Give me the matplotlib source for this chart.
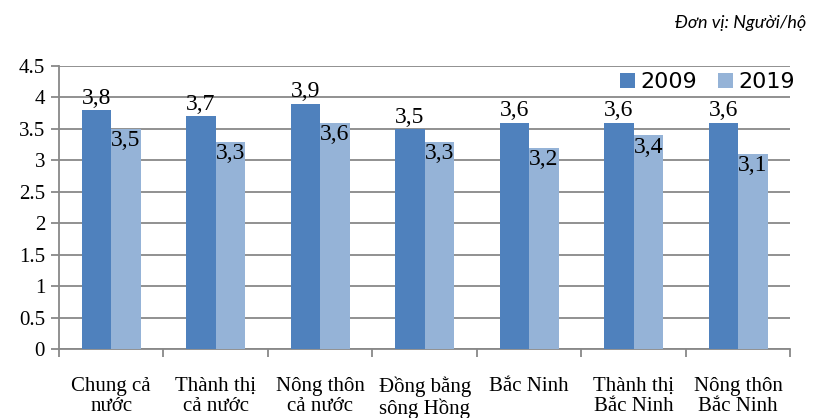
import matplotlib.pyplot as plt
import numpy as np

# Average household size, persons per household
categories = [
    "Chung cả\nnước",
    "Thành thị\ncả nước",
    "Nông thôn\ncả nước",
    "Đồng bằng\nsông Hồng",
    "Bắc Ninh",
    "Thành thị\nBắc Ninh",
    "Nông thôn\nBắc Ninh",
]
years = ["2009", "2019"]
values_2009 = [3.8, 3.7, 3.9, 3.5, 3.6, 3.6, 3.6]
values_2019 = [3.5, 3.3, 3.6, 3.3, 3.2, 3.4, 3.1]
y_ticks = [0, 0.5, 1, 1.5, 2, 2.5, 3, 3.5, 4, 4.5]

DARK = "#4f81bd"
LIGHT = "#95b3d7"
GRID = "#888888"
SERIF = "Liberation Serif"

plt.rcParams["font.family"] = [SERIF, "DejaVu Serif"]


def fmt(v):
    return f"{v:.1f}".replace(".", ",")


fig = plt.figure(figsize=(8.19, 4.18), dpi=100)
ax = fig.add_axes([0.072, 0.165, 0.893, 0.677])

x = np.arange(len(categories))
w = 0.283
b1 = ax.bar(x - w / 2, values_2009, w, color=DARK, label=years[0], zorder=3)
b2 = ax.bar(x + w / 2, values_2019, w, color=LIGHT, label=years[1], zorder=3)

for rect, v in zip(b1, values_2009):
    ax.annotate(fmt(v), (rect.get_x() + rect.get_width() / 2, v),
                xytext=(0, 1), textcoords="offset points",
                ha="center", va="bottom", fontsize=17, zorder=4)
for rect, v in zip(b2, values_2019):
    ax.annotate(fmt(v), (rect.get_x() + rect.get_width() / 2, v),
                xytext=(0, -1), textcoords="offset points",
                ha="center", va="top", fontsize=17, zorder=4)

ax.set_xlim(-0.5, len(categories) - 0.5)
ax.set_ylim(0, 4.5)
ax.yaxis.grid(True, color=GRID, lw=1.3, zorder=0)
ax.set_axisbelow(True)

# category labels sit centred, ticks mark the boundaries between groups
ax.set_xticks(np.arange(len(categories) + 1) - 0.5)
ax.set_xticklabels([])
ax.set_xticks(x, minor=True)
ax.tick_params(axis="x", which="minor", length=0, pad=20)
ax.tick_params(axis="x", which="major", length=6, width=1.3, color=GRID)
ax.tick_params(axis="y", length=6, width=1.3, color=GRID, pad=4)

ax.set_xticklabels(categories, minor=True, fontsize=15, linespacing=1.1,
                   family=SERIF)
ax.set_yticks(y_ticks)
ax.set_yticklabels([f"{t:g}" for t in y_ticks], fontsize=15, family=SERIF)

for side in ("top", "right"):
    ax.spines[side].set_visible(False)
for side in ("left", "bottom"):
    ax.spines[side].set_color(GRID)
    ax.spines[side].set_linewidth(1.3)

ax.legend(loc="upper right", bbox_to_anchor=(1.025, 1.025), ncol=2,
          frameon=False, prop={"family": "DejaVu Sans", "size": 16},
          handlelength=0.7, handleheight=0.7, handletextpad=0.25,
          columnspacing=0.9, borderaxespad=0.2)

fig.text(0.985, 0.945, "Đơn vị: Người/hộ", ha="right", va="center",
         fontsize=13, style="italic", family="Lato")

fig.savefig("out.png", dpi=100)
